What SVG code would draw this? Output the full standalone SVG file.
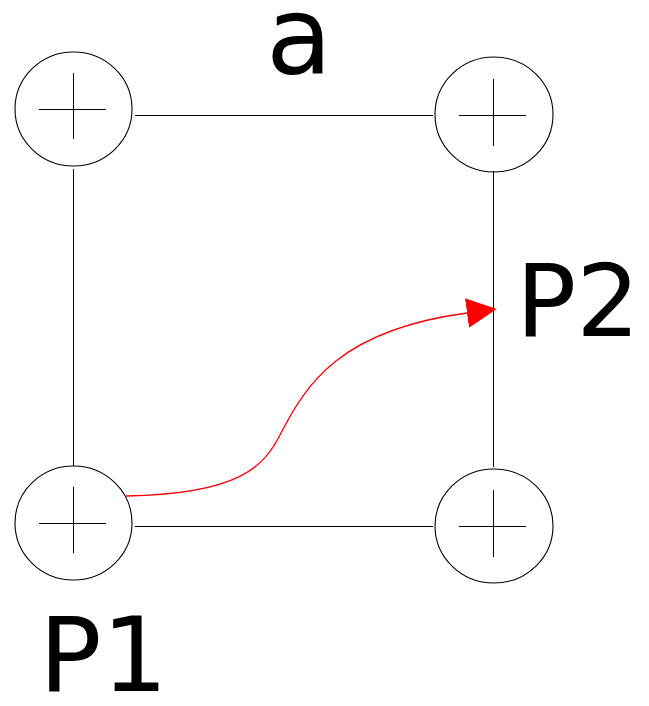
<svg xmlns="http://www.w3.org/2000/svg" width="649" height="706" viewBox="0 0 649 706">
<style>
.ring{fill:none;stroke:#000;stroke-width:1.1}
.cross{stroke:#000;stroke-width:1}
.edge{stroke:#000;stroke-width:1;fill:none}
.lbl{font-family:"DejaVu Sans",sans-serif;fill:#000}
.arrow{fill:none;stroke:#f00;stroke-width:1.3}
</style>
<defs>
<marker id="ah" markerUnits="userSpaceOnUse" markerWidth="31" markerHeight="31" refX="0" refY="15" orient="auto">
<path d="M0,0 L30,15 L0,30 z" fill="#f00"/>
</marker>
</defs>
<g id="connectors">
<line class="edge" x1="135" y1="115.5" x2="433" y2="115.5"/>
<line class="edge" x1="135" y1="526.5" x2="433" y2="526.5"/>
<line class="edge" x1="73.5" y1="169" x2="73.5" y2="466"/>
<line class="edge" x1="493.5" y1="171" x2="493.5" y2="467"/>
<path class="arrow" d="M126,496 C240,494 264,466 280,435 C306,384 340,330 467,313" marker-end="url(#ah)"/>
</g>
<g id="node-tl">
<ellipse class="ring" cx="73.5" cy="109" rx="58.5" ry="57"/>
<line class="cross" x1="39" y1="109.5" x2="106" y2="109.5"/>
<line class="cross" x1="73.5" y1="73" x2="73.5" y2="139"/>
</g>
<g id="node-tr">
<ellipse class="ring" cx="494" cy="114.5" rx="59" ry="57.5"/>
<line class="cross" x1="459" y1="115.5" x2="526" y2="115.5"/>
<line class="cross" x1="493.5" y1="79" x2="493.5" y2="146"/>
</g>
<g id="node-bl">
<ellipse class="ring" cx="73.5" cy="523" rx="58.5" ry="57"/>
<line class="cross" x1="39" y1="523.5" x2="106" y2="523.5"/>
<line class="cross" x1="73.5" y1="487" x2="73.5" y2="553"/>
</g>
<g id="node-br">
<ellipse class="ring" cx="494" cy="526" rx="59" ry="57"/>
<line class="cross" x1="459" y1="526.5" x2="526" y2="526.5"/>
<line class="cross" x1="493.5" y1="490" x2="493.5" y2="557"/>
</g>
<g id="labels">
<text class="lbl" x="266" y="73" font-size="108">a</text>
<text class="lbl" x="516" y="336" font-size="100">P2</text>
<text class="lbl" x="39" y="691" font-size="104">P1</text>
</g>
</svg>
